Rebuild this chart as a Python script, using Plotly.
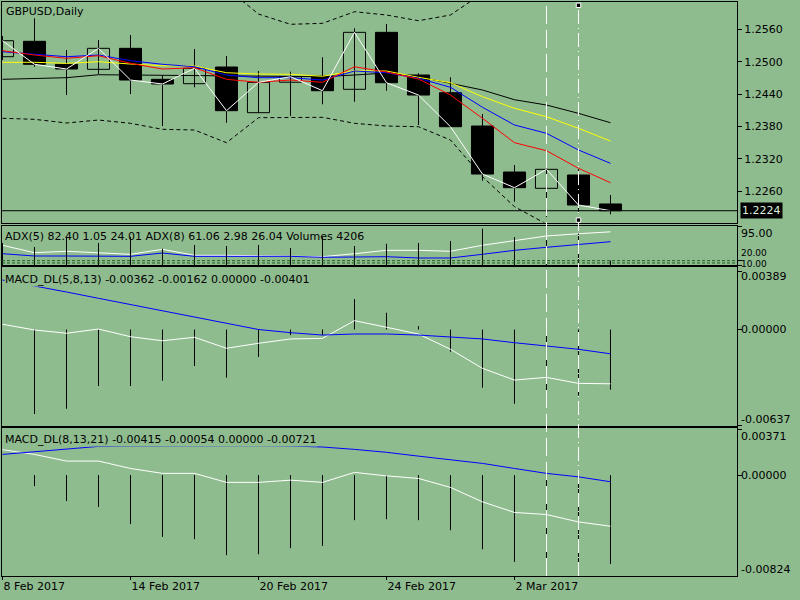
import plotly.graph_objects as go

# ---- data ----
dates = ["8 Feb 2017", "9 Feb 2017", "10 Feb 2017", "13 Feb 2017", "14 Feb 2017",
         "15 Feb 2017", "16 Feb 2017", "17 Feb 2017", "20 Feb 2017", "21 Feb 2017",
         "22 Feb 2017", "23 Feb 2017", "24 Feb 2017", "27 Feb 2017", "28 Feb 2017",
         "1 Mar 2017", "2 Mar 2017", "3 Mar 2017", "6 Mar 2017", "7 Mar 2017"]

opens = [1.25093, 1.25378, 1.24952, 1.24859, 1.25248, 1.24674, 1.24593, 1.24902, 1.24056, 1.24620,
         1.24735, 1.24489, 1.25544, 1.24754, 1.24426, 1.23809, 1.22957, 1.22655, 1.22902, 1.22365]
highs = [1.25476, 1.25804, 1.25217, 1.25402, 1.25494, 1.24754, 1.25235, 1.25106, 1.24828, 1.24815,
         1.25081, 1.25619, 1.25698, 1.24785, 1.24711, 1.24031, 1.23087, 1.23007, 1.23007, 1.22531]
lows = [1.25031, 1.24907, 1.24383, 1.24772, 1.24402, 1.23809, 1.24526, 1.23870, 1.24056, 1.23994,
        1.24211, 1.24259, 1.24463, 1.23828, 1.23796, 1.22796, 1.22407, 1.22124, 1.22222, 1.22174]
closes = [1.25389, 1.24952, 1.24865, 1.25248, 1.24661, 1.24587, 1.24878, 1.24093, 1.24618, 1.24722,
          1.24463, 1.25544, 1.24611, 1.24383, 1.23796, 1.22920, 1.22667, 1.23007, 1.22346, 1.22240]

ma_red = [1.25204, 1.25124, 1.25063, 1.25111, 1.24970, 1.24865, 1.24889, 1.24674, 1.24618, 1.24661,
          1.24618, 1.24907, 1.24810, 1.24680, 1.24383, 1.23952, 1.23500, 1.23352, 1.23026, 1.22759]
ma_blue = [1.25185, 1.25137, 1.25093, 1.25124, 1.25019, 1.24952, 1.24907, 1.24754, 1.24704, 1.24704,
           1.24661, 1.24828, 1.24796, 1.24693, 1.24526, 1.24156, 1.23828, 1.23674, 1.23365, 1.23118]
ma_yellow = [1.24989, 1.24989, 1.24970, 1.25000, 1.24957, 1.24926, 1.24920, 1.24796, 1.24772, 1.24767,
             1.24730, 1.24833, 1.24828, 1.24711, 1.24611, 1.24352, 1.24137, 1.23981, 1.23767, 1.23531]
ma_black = [1.24674, 1.24693, 1.24704, 1.24759, 1.24754, 1.24754, 1.24748, 1.24748, 1.24741, 1.24735,
            1.24722, 1.24754, 1.24791, 1.24722, 1.24600, 1.24476, 1.24296, 1.24198, 1.24044, 1.23870]
band_upper = [1.26620, 1.26650, 1.26600, 1.26550, 1.26580, 1.26500, 1.26480, 1.26365, 1.25883, 1.25693,
              1.25711, 1.25926, 1.25865, 1.25759, 1.25865, 1.26269, 1.26600, 1.26750, 1.26850, 1.26900]
band_lower = [1.23952, 1.23933, 1.23865, 1.23920, 1.23859, 1.23748, 1.23735, 1.23500, 1.23963, 1.23970,
              1.23970, 1.23859, 1.23809, 1.23796, 1.23550, 1.22870, 1.22315, 1.21994, 1.21735, 1.21550]

adx5 = [53.3, 37.2, 40.3, 37.2, 33.8, 44.6, 31.6, 31.6, 30.8, 30.1,
        28.6, 35.1, 42.4, 42.4, 40.3, 53.3, 64.1, 73.4, 78.3, 82.40]
adx8 = [35.1, 30.1, 30.1, 30.1, 29.4, 36.6, 29.4, 29.4, 29.4, 29.4,
        27.3, 28.6, 28.6, 25.8, 25.8, 33.8, 42.4, 48.9, 55.4, 61.06]
adx_levels = [20, 15]
volumes = [20000, 16400, 25300, 20000, 25300, 14900, 18200, 17300, 18200, 15500,
           25300, 17300, 19300, 20000, 21700, 32800, 25300, 30700, 28300, 4206]

macd1_main = [0.00035, -0.00003, -0.00025, 0.00003, -0.00048, -0.00075, -0.00052, -0.00125, -0.00092, -0.00063,
              -0.00059, 0.00059, 0.00015, -0.00030, -0.00132, -0.00259, -0.00337, -0.00319, -0.00359, -0.00362]
macd1_signal = [0.00330, 0.00292, 0.00250, 0.00208, 0.00166, 0.00126, 0.00086, 0.00043, 0.00000, -0.00021,
                -0.00037, -0.00030, -0.00030, -0.00037, -0.00048, -0.00063, -0.00088, -0.00110, -0.00132, -0.00162]
macd1_hist = [0.0, -0.00563, -0.00528, -0.00377, -0.00377, -0.00341, -0.00243, -0.00321, -0.00183, -0.00037,
              -0.00037, 0.00203, 0.00112, 0.00023, -0.00148, -0.00388, -0.00495, -0.00408, -0.00441, -0.00401]

macd2_main = [0.00207, 0.00168, 0.00114, 0.00114, 0.00054, 0.00014, 0.00014, -0.00059, -0.00059, -0.00041,
              -0.00059, 0.00022, -0.00006, -0.00027, -0.00100, -0.00217, -0.00303, -0.00320, -0.00380, -0.00415]
macd2_signal = [0.00168, 0.00189, 0.00211, 0.00233, 0.00236, 0.00238, 0.00239, 0.00239, 0.00238, 0.00236,
                0.00228, 0.00209, 0.00185, 0.00154, 0.00127, 0.00095, 0.00054, 0.00014, -0.00014, -0.00054]
macd2_hist = [0.0, -0.00089, -0.00211, -0.00258, -0.00398, -0.00501, -0.00520, -0.00650, -0.00642, -0.00593,
              -0.00575, -0.00366, -0.00358, -0.00366, -0.00447, -0.00602, -0.00705, -0.00677, -0.00715, -0.00721]

price_ticks = [1.2260, 1.2320, 1.2380, 1.2440, 1.2500, 1.2560]
date_ticks = [0, 4, 8, 12, 16]
marked_bars = [17, 18]

BG = "#8FBC8F"
FONT = "DejaVu Sans"
idx = list(range(len(dates)))


def ypx(px):
    # pixel row -> paper fraction (plot area runs from y=2 to y=576)
    return (576 - px) / 574


def sticks(lo, hi):
    # x/y lists for one vertical 1px segment per bar (None breaks the line)
    xs, ys = [], []
    for i, (a, b) in enumerate(zip(lo, hi)):
        xs += [i, i, None]
        ys += [a, b, None]
    return xs, ys


fig = go.Figure()

# ---- main price panel ----
wx, wy = sticks(lows, highs)
fig.add_trace(go.Scatter(x=wx, y=wy, mode="lines", line=dict(color="black", width=1),
                         xaxis="x", yaxis="y"))

body_base = [min(o, c) for o, c in zip(opens, closes)]
body_size = [abs(c - o) for o, c in zip(opens, closes)]
body_fill = [BG if c >= o else "black" for o, c in zip(opens, closes)]
fig.add_trace(go.Bar(x=idx, y=body_size, base=body_base, width=0.69,
                     marker=dict(color=body_fill, line=dict(color="black", width=1)),
                     xaxis="x", yaxis="y"))

for band in (band_upper, band_lower):
    fig.add_trace(go.Scatter(x=idx, y=band, mode="lines",
                             line=dict(color="black", width=1, dash="4px,3px"),
                             xaxis="x", yaxis="y"))
for ma, col in ((ma_black, "black"), (ma_yellow, "yellow"), (ma_blue, "blue"), (ma_red, "red")):
    fig.add_trace(go.Scatter(x=idx, y=ma, mode="lines", line=dict(color=col, width=1),
                             xaxis="x", yaxis="y"))
fig.add_trace(go.Scatter(x=idx, y=closes, mode="lines", line=dict(color="white", width=1),
                         xaxis="x", yaxis="y"))

# ---- ADX + volumes ----
vx, vy = sticks([0] * len(volumes), volumes)
fig.add_trace(go.Scatter(x=vx, y=vy, mode="lines", line=dict(color="black", width=1),
                         xaxis="x2", yaxis="y5"))
fig.add_trace(go.Scatter(x=idx, y=adx5, mode="lines", line=dict(color="white", width=1),
                         xaxis="x2", yaxis="y2"))
fig.add_trace(go.Scatter(x=idx, y=adx8, mode="lines", line=dict(color="blue", width=1),
                         xaxis="x2", yaxis="y2"))

# ---- MACD panels ----
for hist, main, sig, xa, ya in ((macd1_hist, macd1_main, macd1_signal, "x3", "y3"),
                                (macd2_hist, macd2_main, macd2_signal, "x4", "y4")):
    hx, hy = sticks([0] * len(hist), hist)
    fig.add_trace(go.Scatter(x=hx, y=hy, mode="lines", line=dict(color="black", width=1),
                             xaxis=xa, yaxis=ya))
    fig.add_trace(go.Scatter(x=idx, y=main, mode="lines", line=dict(color="white", width=1),
                             xaxis=xa, yaxis=ya))
    fig.add_trace(go.Scatter(x=idx, y=sig, mode="lines", line=dict(color="blue", width=1),
                             xaxis=xa, yaxis=ya))

frame = dict(showgrid=False, zeroline=False, showline=True, mirror=True,
             linecolor="black", linewidth=1)
# half-pixel offset keeps 1px verticals crisp (32px per bar)
xrange = [-0.0156, 22.954]
tickfont = dict(family=FONT, size=11, color="black")

fig.update_layout(
    width=800, height=600,
    margin=dict(l=2, r=63, t=2, b=24),
    paper_bgcolor=BG, plot_bgcolor=BG,
    showlegend=False, barmode="overlay",
    font=dict(family=FONT, size=11, color="black"),
    xaxis=dict(frame, range=xrange, anchor="y", showticklabels=False, ticks=""),
    xaxis2=dict(frame, matches="x", anchor="y2", showticklabels=False, ticks=""),
    xaxis3=dict(frame, matches="x", anchor="y3", showticklabels=False, ticks=""),
    xaxis4=dict(frame, matches="x", anchor="y4", ticks="outside", ticklen=3, tickcolor="black",
                tickvals=date_ticks, ticktext=[dates[i] for i in date_ticks],
                ticklabelposition="outside right", tickfont=tickfont),
    yaxis=dict(frame, domain=[ypx(222.5), 1], range=[1.22022, 1.26106], side="right",
               tickvals=price_ticks, ticktext=[f"{v:.4f}" for v in price_ticks],
               ticks="outside", ticklen=4, tickcolor="black", tickfont=tickfont),
    yaxis2=dict(frame, domain=[ypx(265.3), ypx(226)], range=[10, 95], side="right",
                tickvals=[95, 20, 10], ticks="outside", ticklen=4, tickcolor="black",
                showticklabels=False),
    yaxis5=dict(overlaying="y2", anchor="x2", range=[0, 35200], visible=False),
    yaxis3=dict(frame, domain=[ypx(425.7), ypx(267)], range=[-0.006413, 0.004167], side="right",
                tickvals=[0.00389, 0, -0.00637], ticks="outside", ticklen=4, tickcolor="black",
                showticklabels=False),
    yaxis4=dict(frame, domain=[0, ypx(428.3)], range=[-0.00819, 0.0038], side="right",
                tickvals=[0.00371, 0, -0.00824], ticks="outside", ticklen=4, tickcolor="black",
                showticklabels=False),
)

# current price line and label
fig.add_shape(type="line", xref="x domain", x0=0, x1=1, yref="y", y0=closes[-1], y1=closes[-1],
              line=dict(color="black", width=1))
fig.add_annotation(x=1, xref="paper", y=closes[-1], yref="y", xanchor="left", xshift=3,
                   text=f"{closes[-1]:.4f}", showarrow=False, bgcolor="black", borderpad=1,
                   font=dict(family=FONT, size=11, color="#DDEEDD"))

# ADX levels
for lv in adx_levels:
    fig.add_shape(type="line", xref="x2 domain", x0=0, x1=1, yref="y2", y0=lv, y1=lv,
                  line=dict(color="#1F5F1F", width=1, dash="3px,2px"))

# vertical marker lines (two selected vertical-line objects)
fig.add_shape(type="line", xref="x", x0=marked_bars[0], x1=marked_bars[0], yref="paper", y0=0, y1=1,
              line=dict(color="white", width=1, dash="18px,6px"))
fig.add_shape(type="line", xref="x", x0=marked_bars[1], x1=marked_bars[1], yref="paper", y0=0, y1=1,
              line=dict(color="white", width=1, dash="14px,4px,1px,4px"))
for yd in (0.985, 0.011):
    fig.add_shape(type="rect", xref="x", x0=marked_bars[1] - 0.07, x1=marked_bars[1] + 0.07,
                  yref="y domain", y0=yd - 0.010, y1=yd + 0.010,
                  fillcolor="black", line=dict(color="white", width=1))

# panel captions
captions = [
    ("GBPUSD,Daily", 11.5, None),
    ("ADX(5) 82.40 1.05 24.01 ADX(8) 61.06 2.98 26.04 Volumes 4206", 237, None),
    ("MACD_DL(5,8,13) -0.00362 -0.00162 0.00000 -0.00401", 279, BG),
    ("MACD_DL(8,13,21) -0.00415 -0.00054 0.00000 -0.00721", 440, BG),
]
for i, (txt, py, bg) in enumerate(captions):
    fig.add_annotation(x=0, xref="paper", y=ypx(py), yref="paper", xanchor="left", yanchor="middle",
                       xshift=3 if i == 0 else 2, text=txt, showarrow=False, borderpad=0,
                       bgcolor=bg if bg else "rgba(0,0,0,0)",
                       font=dict(family=FONT, size=11, color="black"))

# right-hand scale labels of the sub windows
side_labels = [("95.00", 233, 11), ("20.00", 253, 9), ("10.00", 264, 9),
               ("0.00389", 276.5, 11), ("0.00000", 329, 11), ("-0.00637", 419.3, 11),
               ("0.00371", 436.7, 11), ("0.00000", 475, 11), ("-0.00824", 569.3, 11)]
for txt, py, fs in side_labels:
    fig.add_annotation(x=1, xref="paper", y=ypx(py), yref="paper", xanchor="left", yanchor="middle",
                       xshift=3, text=txt, showarrow=False, borderpad=0,
                       font=dict(family=FONT, size=fs, color="black"))

# the page body keeps an 8px default margin; drop it so the figure sits at the window corner
fig.write_html("out.html", config={"displayModeBar": False},
               post_script="document.body.style.margin='0';")
